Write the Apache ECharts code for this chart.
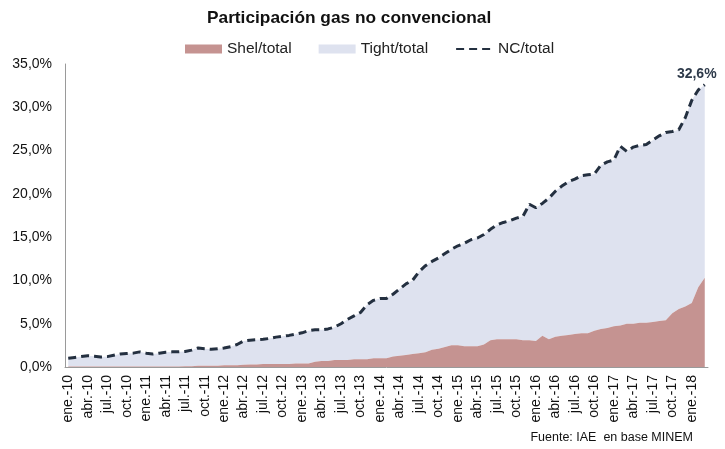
<!DOCTYPE html>
<html>
<head>
<meta charset="utf-8">
<script src="https://cdn.jsdelivr.net/npm/echarts@6/dist/echarts.min.js"></script>
<style>
  html, body { margin: 0; padding: 0; background: #fff; }
  #chart { width: 725px; height: 449px; }
</style>
</head>
<body>
<div id="chart"></div>
<script>
const monthNames = ['ene.', 'feb.', 'mar.', 'abr.', 'may.', 'jun.', 'jul.', 'ago.', 'sep.', 'oct.', 'nov.', 'dic.']
const years = ['10', '11', '12', '13', '14', '15', '16', '17', '18']

// ene.-10 ... mar.-18 (99 meses)
const categories = []
years.forEach(y => monthNames.forEach(m => categories.push(m + '-' + y)))
categories.length = 99

// % del total
const ncTotal = [
  1.0, 1.1, 1.2, 1.3, 1.25, 1.15, 1.2, 1.35, 1.5, 1.55, 1.6, 1.75,
  1.6, 1.5, 1.6, 1.7, 1.75, 1.75, 1.8, 1.95, 2.2, 2.1, 2.05, 2.1,
  2.2, 2.35, 2.6, 3.0, 3.1, 3.15, 3.2, 3.3, 3.45, 3.55, 3.65, 3.8,
  3.95, 4.2, 4.3, 4.3, 4.4, 4.6, 5.0, 5.5, 5.9, 6.3, 7.2, 7.7,
  7.9, 7.9, 8.4, 9.0, 9.6, 10.0, 11.0, 11.7, 12.2, 12.6, 13.1, 13.6,
  14.0, 14.3, 14.7, 14.9, 15.3, 15.9, 16.4, 16.7, 16.9, 17.2, 17.4, 18.8,
  18.4, 18.9, 19.5, 20.3, 20.9, 21.4, 21.7, 22.1, 22.2, 22.3, 23.3, 23.7,
  23.9, 25.5, 24.9, 25.4, 25.6, 25.7, 26.2, 26.7, 27.1, 27.2, 27.4, 28.8,
  30.8, 32.0, 32.6
]
const shaleTotal = [
  0.05, 0.05, 0.05, 0.05, 0.05, 0.05, 0.05, 0.05, 0.05, 0.05, 0.05, 0.05,
  0.05, 0.05, 0.05, 0.05, 0.05, 0.05, 0.1, 0.1, 0.15, 0.15, 0.15, 0.15,
  0.2, 0.2, 0.2, 0.25, 0.3, 0.3, 0.35, 0.35, 0.35, 0.35, 0.35, 0.4,
  0.4, 0.4, 0.6, 0.7, 0.7, 0.8, 0.8, 0.8, 0.9, 0.9, 0.9, 1.0,
  1.0, 1.0, 1.2, 1.3, 1.4, 1.5, 1.6, 1.7, 2.0, 2.1, 2.3, 2.5,
  2.5, 2.4, 2.4, 2.4, 2.6, 3.1, 3.2, 3.2, 3.2, 3.2, 3.1, 3.1,
  3.0, 3.6, 3.2, 3.5, 3.6, 3.7, 3.8, 3.9, 3.9, 4.2, 4.4, 4.5,
  4.7, 4.8, 5.0, 5.0, 5.1, 5.1, 5.2, 5.3, 5.4, 6.2, 6.7, 7.0,
  7.4, 9.2, 10.3
]
const tightTotal = ncTotal.map((v, i) => +(v - shaleTotal[i]).toFixed(2))

const yTicks = { min: 0, max: 35, interval: 5 }

function creatChart(){
  const chart = echarts.init(document.getElementById('chart'))
  const fmt = v => v.toFixed(1).replace('.', ',') + '%'
  const font = 'Liberation Sans, Arial, sans-serif'
  const chart_option = {
    animation: false,
    textStyle: { fontFamily: font },
    title: {
      text: 'Participación gas no convencional',
      left: 202,
      top: 5,
      textStyle: { fontSize: 17.3, fontWeight: 'bold', color: '#111', fontFamily: font }
    },
    legend: {
      top: 36,
      left: 180,
      itemGap: 27,
      itemWidth: 37,
      itemHeight: 9,
      textStyle: { fontSize: 15.5, color: '#222', fontFamily: font },
      data: [
        { name: 'Shel/total', icon: 'rect' },
        { name: 'Tight/total', icon: 'rect' },
        { name: 'NC/total', itemStyle: { opacity: 0 } }
      ]
    },
    grid: { left: 65, right: 17, top: 64, bottom: 82 },
    xAxis: {
      type: 'category',
      data: categories,
      boundaryGap: true,
      axisLine: { lineStyle: { color: '#9a9a9a' } },
      axisTick: { show: false },
      axisLabel: {
        interval: 2,
        rotate: 90,
        fontSize: 14,
        color: '#111',
        margin: 8
      }
    },
    yAxis: {
      type: 'value',
      min: yTicks.min,
      max: yTicks.max,
      interval: yTicks.interval,
      splitLine: { show: false },
      axisLine: { show: true, lineStyle: { color: '#9a9a9a' } },
      axisTick: { show: false },
      axisLabel: {
        fontSize: 14,
        color: '#111',
        margin: 13,
        formatter: v => fmt(v)
      }
    },
    series: [
      {
        name: 'Shel/total',
        type: 'line',
        stack: 'nc',
        data: shaleTotal,
        symbol: 'none',
        lineStyle: { width: 0 },
        itemStyle: { color: '#c59391' },
        areaStyle: { color: '#c59391', opacity: 1 },
        z: 3
      },
      {
        name: 'Tight/total',
        type: 'line',
        stack: 'nc',
        data: tightTotal,
        symbol: 'none',
        lineStyle: { width: 0 },
        itemStyle: { color: '#dee2ef' },
        areaStyle: { color: '#dee2ef', opacity: 1 },
        z: 2
      },
      {
        name: 'NC/total',
        type: 'line',
        data: ncTotal,
        symbol: 'none',
        itemStyle: { color: '#243040' },
        lineStyle: { color: '#243040', width: 3, type: [8, 5] },
        markPoint: {
          symbol: 'circle',
          symbolSize: 0,
          data: [{ type: 'max' }],
          label: {
            show: true,
            position: 'top',
            distance: 4,
            offset: [-8, 0],
            formatter: p => fmt(p.value),
            fontSize: 14,
            fontWeight: 'bold',
            color: '#2e3a4a',
            fontFamily: font
          }
        },
        z: 4
      }
    ],
    graphic: [{
      type: 'text',
      right: 32,
      top: 431,
      style: { text: 'Fuente: IAE  en base MINEM', fontSize: 12.5, fill: '#111', fontFamily: font }
    }]
  }
  chart.setOption(chart_option)
}
window.onload = function(){
  creatChart()
}
</script>
</body>
</html>
